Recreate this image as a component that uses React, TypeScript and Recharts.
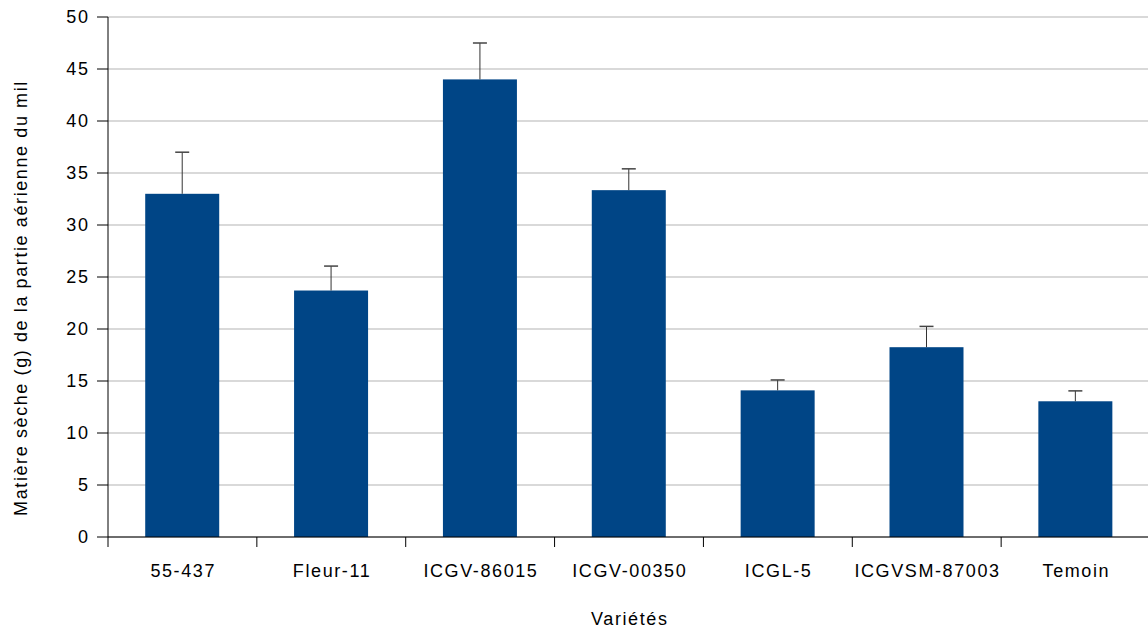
import React from 'react';
import { BarChart, Bar, XAxis, YAxis, CartesianGrid } from 'recharts';

const categories = ['55-437', 'Fleur-11', 'ICGV-86015', 'ICGV-00350', 'ICGL-5', 'ICGVSM-87003', 'Temoin'];
const means = [33.0, 23.7, 44.0, 33.35, 14.1, 18.25, 13.05];
const errors = [4.0, 2.35, 3.5, 2.05, 1.0, 2.0, 1.0];
const yTicks = [0, 5, 10, 15, 20, 25, 30, 35, 40, 45, 50];
const xTitle = 'Variétés';
const yTitle = 'Matière sèche (g) de la partie aérienne du mil';

const data = categories.map((name, i) => ({ name, value: means[i], err: errors[i] }));

const FONT = '"Liberation Sans", Arial, sans-serif';
const FS = 18;
const LS = 1.6;

const BarWithError = (props: any) => {
  const { x, y, width, height, fill, payload } = props;
  const pxPerUnit = payload.value ? height / payload.value : 0;
  const top = y - payload.err * pxPerUnit;
  const cx = x + width / 2;
  return (
    <g>
      <rect x={x} y={y} width={width} height={height} fill={fill} />
      <line x1={cx} y1={y} x2={cx} y2={top} stroke="#333333" strokeWidth={1} />
      <line x1={cx - 7} y1={top} x2={cx + 7} y2={top} stroke="#444444" strokeWidth={1.5} />
    </g>
  );
};

const XTick = (props: any) => {
  const { x, y, payload } = props;
  const off = payload && payload.offset != null ? payload.offset : 74.5;
  return (
    <g>
      <line x1={x - off} y1={y} x2={x - off} y2={y + 10} stroke="#000" strokeWidth={1} />
      <text x={x + LS / 2} y={y + 40} textAnchor="middle" fill="#000" fontSize={FS} fontFamily={FONT} style={{ letterSpacing: LS }}>
        {payload.value}
      </text>
    </g>
  );
};

const YTick = (props: any) => {
  const { x, y, payload } = props;
  return (
    <text x={x + LS} y={y} dy={6.4} textAnchor="end" fill="#000" fontSize={FS} fontFamily={FONT} style={{ letterSpacing: LS }}>
      {payload.value}
    </text>
  );
};

const XTitle = (props: any) => {
  const { viewBox } = props;
  const cx = viewBox.x + viewBox.width / 2;
  return (
    <text x={cx + LS / 2} y={viewBox.y + viewBox.height - 5} textAnchor="middle" fill="#000" fontSize={FS} fontFamily={FONT} style={{ letterSpacing: LS }}>
      {xTitle}
    </text>
  );
};

const YTitle = (props: any) => {
  const { viewBox } = props;
  const cx = viewBox.x + 27;
  const cy = viewBox.y + viewBox.height / 2 + 21;
  return (
    <text x={cx} y={cy} textAnchor="middle" fill="#000" fontSize={FS} fontFamily={FONT} style={{ letterSpacing: LS }} transform={`rotate(-90 ${cx} ${cy})`}>
      {yTitle}
    </text>
  );
};

export default function App() {
  return (
    <div style={{ position: 'absolute', left: 0, top: 0, width: 1148, height: 630, overflow: 'hidden', background: '#fff' }}>
      <BarChart
        width={1152}
        height={630}
        data={data}
        margin={{ top: 17, right: 2, left: 0, bottom: 0 }}
        barCategoryGap="25%"
      >
        <CartesianGrid vertical={false} stroke="#b3b3b3" strokeWidth={1} />
        <XAxis
          dataKey="name"
          height={93}
          tickSize={0}
          tickMargin={0}
          tickLine={false}
          axisLine={{ stroke: '#000', strokeWidth: 1 }}
          tick={<XTick />}
          interval={0}
          label={<XTitle />}
        />
        <YAxis
          width={108}
          domain={[0, 50]}
          ticks={yTicks}
          interval={0}
          tickSize={11}
          tickMargin={9}
          axisLine={{ stroke: '#000', strokeWidth: 1 }}
          tickLine={{ stroke: '#000', strokeWidth: 1 }}
          tick={<YTick />}
          label={<YTitle />}
        />
        <Bar dataKey="value" fill="#004586" isAnimationActive={false} shape={<BarWithError />} />
      </BarChart>
    </div>
  );
}
